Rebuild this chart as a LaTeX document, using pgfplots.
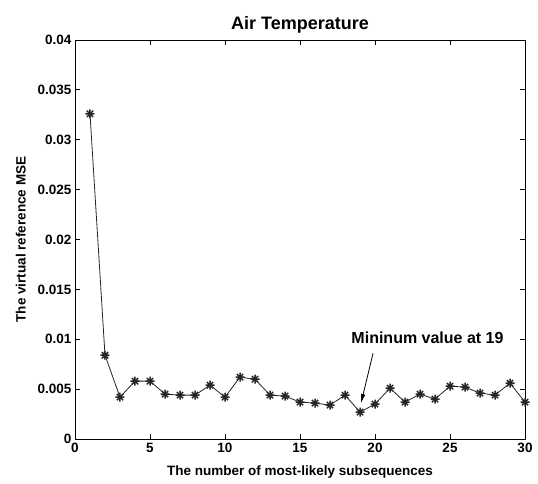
\documentclass[border=0pt]{standalone}
\usepackage{fontspec}
\setmainfont{Liberation Sans}
\usepackage{pgfplots}
\pgfplotsset{compat=1.18}
\usetikzlibrary{arrows.meta}

% MATLAB-style '*' marker: a plus overlaid with a cross
\pgfdeclareplotmark{mstar}{%
  \pgfpathmoveto{\pgfqpoint{-\pgfplotmarksize}{0pt}}%
  \pgfpathlineto{\pgfqpoint{\pgfplotmarksize}{0pt}}%
  \pgfpathmoveto{\pgfqpoint{0pt}{-\pgfplotmarksize}}%
  \pgfpathlineto{\pgfqpoint{0pt}{\pgfplotmarksize}}%
  \pgfpathmoveto{\pgfqpoint{-0.707\pgfplotmarksize}{-0.707\pgfplotmarksize}}%
  \pgfpathlineto{\pgfqpoint{0.707\pgfplotmarksize}{0.707\pgfplotmarksize}}%
  \pgfpathmoveto{\pgfqpoint{-0.707\pgfplotmarksize}{0.707\pgfplotmarksize}}%
  \pgfpathlineto{\pgfqpoint{0.707\pgfplotmarksize}{-0.707\pgfplotmarksize}}%
  \pgfusepathqstroke}

\begin{document}
\begin{tikzpicture}
\begin{axis}[
  scale only axis,
  width=450pt, height=399pt,
  xmin=0, xmax=30, ymin=0, ymax=0.04,
  xtick={0,5,...,30},
  ytick={0,0.005,...,0.04},
  tick align=inside,
  major tick length=5pt,
  tick style={black, line width=0.8pt},
  axis line style={black, line width=0.9pt},
  scaled y ticks=false,
  /pgf/number format/assume math mode=true,
  yticklabel style={/pgf/number format/fixed, /pgf/number format/precision=3},
  tick label style={font=\fontsize{13.5}{15}\selectfont\bfseries},
  xticklabel style={yshift=-1pt},
  title={\fontsize{18}{20}\selectfont\bfseries Air Temperature},
  title style={yshift=-3pt},
  xlabel={The number of most-likely subsequences},
  ylabel={The virtual reference MSE},
  label style={font=\fontsize{13.5}{15}\selectfont\bfseries},
  xlabel style={yshift=-6pt},
  ylabel style={yshift=5pt},
]
\addplot[black!85, line width=0.8pt, mark=mstar, mark size=4.5pt,
         mark options={line width=1.5pt}] coordinates {
  (1,0.0326) (2,0.0084) (3,0.0042) (4,0.0058) (5,0.0058)
  (6,0.0045) (7,0.0044) (8,0.0044) (9,0.0054) (10,0.0042)
  (11,0.0062) (12,0.0060) (13,0.0044) (14,0.0043) (15,0.0037)
  (16,0.0036) (17,0.0034) (18,0.0044) (19,0.0027) (20,0.0035)
  (21,0.0051) (22,0.0037) (23,0.0045) (24,0.0040) (25,0.0053)
  (26,0.0052) (27,0.0046) (28,0.0044) (29,0.0056) (30,0.0037)
};
\draw[black, line width=0.8pt, -{Latex[length=9pt,width=4.5pt]}]
  (axis cs:19.87,0.0086) -- (axis cs:19.07,0.0036);
\node[font=\fontsize{16}{18}\selectfont\bfseries, inner sep=0pt]
  at (axis cs:23.5,0.0101) {Mininum value at 19};
\end{axis}
\pgfresetboundingbox
\path (-75pt,-44pt) rectangle (463pt,439pt);
\end{tikzpicture}
\end{document}
